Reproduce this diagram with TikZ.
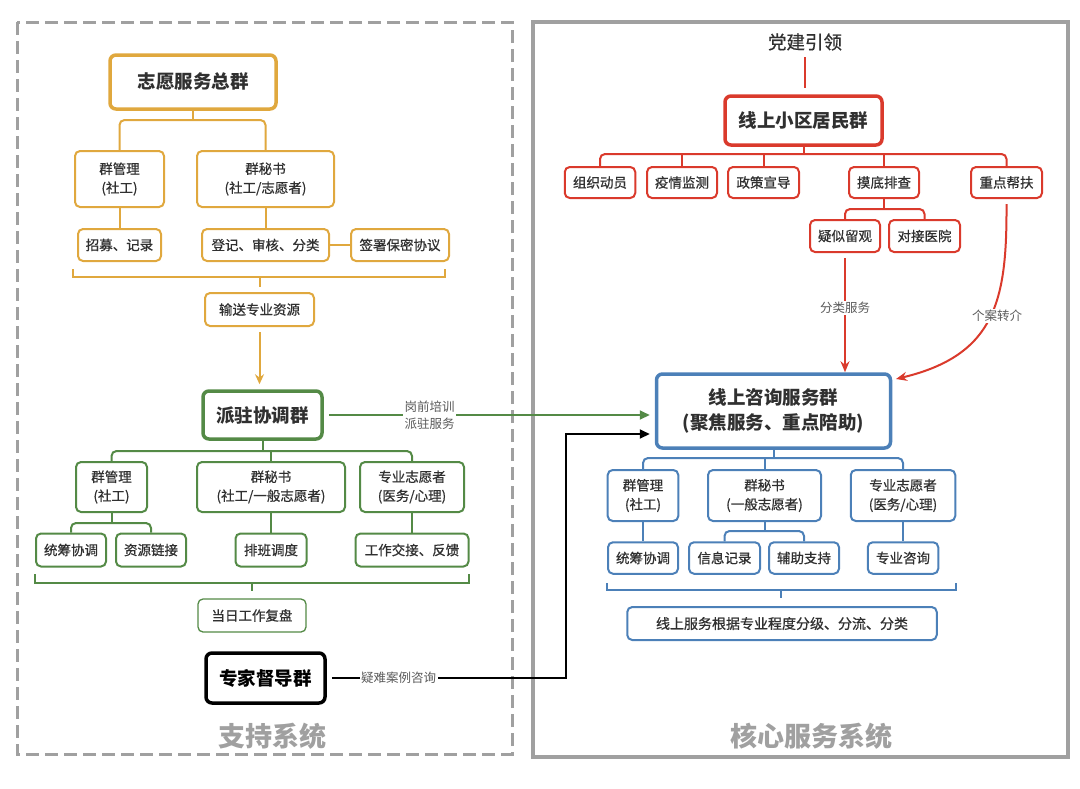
\documentclass[tikz,border=0pt]{standalone}
\usepackage{fontspec}
\setmainfont{Noto Sans CJK SC}
\newfontfamily\medfont{Noto Sans CJK SC}[FakeBold=0.7]
\usetikzlibrary{arrows.meta,calc}
\definecolor{org}{RGB}{224,168,62}
\definecolor{grn}{RGB}{84,138,70}
\definecolor{red1}{RGB}{218,58,44}
\definecolor{blu}{RGB}{76,128,184}
\definecolor{frm}{RGB}{160,160,160}
\definecolor{txt}{RGB}{48,48,48}
\definecolor{lbl}{RGB}{90,90,90}
\tikzset{
  base/.style={draw, rounded corners=5pt, fill=white, align=center, text=txt, inner sep=0pt,
    line width=2pt, font=\medfont\fontsize{13.5}{19}\selectfont},
  big/.style={base, line width=3.5pt, rounded corners=6pt, font=\bfseries\fontsize{18.5}{25}\selectfont},
  wh/.style 2 args={minimum width=#1pt, minimum height=#2pt},
  tline/.style={line width=2pt, rounded corners=5pt},
  lab/.style={fill=white, text=lbl, inner sep=1.5pt, align=center, font=\fontsize{12.5}{16.5}\selectfont},
  sysl/.style={text=frm, font=\bfseries\fontsize{27}{30}\selectfont},
}
\begin{document}
\begin{tikzpicture}[x=1pt,y=-1pt]
\useasboundingbox (0,0) rectangle (1080,788);
% frames
\draw[frm, line width=3pt, dash pattern=on 13pt off 6pt] (17,22) rectangle (512,754);
\draw[frm, line width=3.5pt] (533,22) rectangle (1068,757);
\node[sysl] (sys1) at (272,736) {支持系统};
\node[sysl] (sys2) at (811,736) {核心服务系统};

% ---------- orange ----------
\node[big, draw=org, wh={166}{54}] (zong) at (193,82) {志愿服务总群};
\node[base, draw=org, wh={89}{56}] (ogl) at (119.5,179) {群管理\\(社工)};
\node[base, draw=org, wh={137}{56}] (oms) at (265.5,179) {群秘书\\(社工/志愿者)};
\node[base, draw=org, wh={83}{32}] (ozm) at (119.5,245) {招募、记录};
\node[base, draw=org, wh={127}{32}] (odj) at (265.5,245) {登记、审核、分类};
\node[base, draw=org, wh={98}{32}] (oqs) at (400,245) {签署保密协议};
\node[base, draw=org, wh={109}{33}] (oss) at (259.5,309.5) {输送专业资源};
\coordinate (oj) at (193,120);
\draw[tline, org] (zong.south) -- (oj);
\draw[tline, org] (ogl.north) -- (ogl.north |- oj) -- (oms.north |- oj) -- (oms.north);
\draw[tline, org] (ogl.south) -- (ozm.north);
\draw[tline, org] (oms.south) -- (odj.north);
\draw[tline, org] (odj.east) -- (oqs.west);
\draw[tline, org, rounded corners=0pt] (73,269) -- (73,277) -- (445,277) -- (445,269);
\coordinate (obr) at (259.5,277);
\draw[tline, org] (obr) -- ++(0,10);

% ---------- green ----------
\node[big, draw=grn, wh={119}{48}] (pz) at (262.5,415) {派驻协调群};
\draw[line width=2pt, org, -{Stealth[length=10pt,width=9pt]}, shorten <=5pt, shorten >=5pt] (oss.south) -- (oss.south |- pz.north);
\node[base, draw=grn, wh={71}{50}] (ggl) at (111.5,487) {群管理\\(社工)};
\node[base, draw=grn, wh={148}{50}] (gms) at (271,487) {群秘书\\(社工/一般志愿者)};
\node[base, draw=grn, wh={104}{50}] (gzy) at (412,487) {专业志愿者\\(医务/心理)};
\node[base, draw=grn, wh={70}{33}] (gtc) at (71,550) {统筹协调};
\node[base, draw=grn, wh={70}{33}] (gzl) at (151,550) {资源链接};
\node[base, draw=grn, wh={71}{33}] (gpb) at (271,550) {排班调度};
\node[base, draw=grn, wh={113}{33}] (ggz) at (412,550) {工作交接、反馈};
\node[base, draw=grn, line width=1.3pt, wh={108}{33}] (gfp) at (252,615.5) {当日工作复盘};
\coordinate (gj) at (262.5,451);
\draw[tline, grn] (pz.south) -- (gj);
\draw[tline, grn] (ggl.north) -- (ggl.north |- gj) -- (gzy.north |- gj) -- (gzy.north);
\draw[tline, grn] (gms.north) -- (gms.north |- gj);
\coordinate (gj2) at (111.5,523);
\draw[tline, grn] (ggl.south) -- (gj2);
\draw[tline, grn] (gtc.north) -- (gtc.north |- gj2) -- (gzl.north |- gj2) -- (gzl.north);
\draw[tline, grn] (gms.south) -- (gpb.north);
\draw[tline, grn] (gzy.south) -- (ggz.north);
\draw[tline, grn, rounded corners=0pt] (34.5,574) -- (34.5,583) -- (469,583) -- (469,574);
\coordinate (gbr) at (252,583);
\draw[tline, grn] (gbr) -- ++(0,8);

% ---------- black ----------
\node[big, draw=black, text=black, wh={119}{50}] (zj) at (265.5,678) {专家督导群};

% ---------- red ----------
\node[text=txt, font=\medfont\fontsize{18.5}{22}\selectfont] (dj) at (805,42) {党建引领};
\node[big, draw=red1, wh={157}{49}] (jm) at (803.5,120.5) {线上小区居民群};
\draw[line width=2pt, red1, shorten <=3pt, shorten >=6pt] (dj.south) -- (dj.south |- jm.north);
\node[base, draw=red1, wh={70.5}{31}] (r1) at (600,182.5) {组织动员};
\node[base, draw=red1, wh={70}{31}] (r2) at (682,182.5) {疫情监测};
\node[base, draw=red1, wh={71}{31}] (r3) at (763.5,182.5) {政策宣导};
\node[base, draw=red1, wh={70}{31}] (r4) at (884,182.5) {摸底排查};
\node[base, draw=red1, wh={71}{31}] (r5) at (1006.5,182.5) {重点帮扶};
\coordinate (rj) at (803.5,154);
\draw[tline, red1] (jm.south) -- (rj);
\draw[tline, red1] (r1.north) -- (r1.north |- rj) -- (r5.north |- rj) -- (r5.north);
\draw[tline, red1] (r2.north) -- (r2.north |- rj);
\draw[tline, red1] (r3.north) -- (r3.north |- rj);
\draw[tline, red1] (r4.north) -- (r4.north |- rj);
\node[base, draw=red1, wh={70}{32}] (rys) at (845,236) {疑似留观};
\node[base, draw=red1, wh={71}{32}] (rdj) at (924.5,236) {对接医院};
\coordinate (rj2) at (884,209);
\draw[tline, red1] (r4.south) -- (rj2);
\draw[tline, red1] (rys.north) -- (rys.north |- rj2) -- (rdj.north |- rj2) -- (rdj.north);

% ---------- blue ----------
\node[big, draw=blu, wh={234}{74}] (zx) at (773.5,411) {线上咨询服务群\\(聚焦服务、重点陪助)};
\node[base, draw=blu, wh={70.6}{51}] (bgl) at (643,495.5) {群管理\\(社工)};
\node[base, draw=blu, wh={113}{51}] (bms) at (764.5,495.5) {群秘书\\(一般志愿者)};
\node[base, draw=blu, wh={104.5}{51}] (bzy) at (903,495.5) {专业志愿者\\(医务/心理)};
\node[base, draw=blu, wh={70}{31.5}] (btc) at (643,558) {统筹协调};
\node[base, draw=blu, wh={71}{31.5}] (bxx) at (724.5,558) {信息记录};
\node[base, draw=blu, wh={70}{31.5}] (bfz) at (804,558) {辅助支持};
\node[base, draw=blu, wh={70.5}{31.5}] (bzx) at (903,558) {专业咨询};
\node[base, draw=blu, wh={309.5}{33}, font=\medfont\fontsize{14}{18}\selectfont] (bfl) at (782,623.5) {线上服务根据专业程度分级、分流、分类};
\coordinate (bj) at (773.5,458);
\draw[tline, blu] (zx.south) -- (bj);
\draw[tline, blu] (bgl.north) -- (bgl.north |- bj) -- (bzy.north |- bj) -- (bzy.north);
\draw[tline, blu] (bms.north) -- (bms.north |- bj);
\draw[tline, blu] (bgl.south) -- (btc.north);
\coordinate (bj2) at (764.5,531);
\draw[tline, blu] (bms.south) -- (bj2);
\draw[tline, blu] (bxx.north) -- (bxx.north |- bj2) -- (bfz.north |- bj2) -- (bfz.north);
\draw[tline, blu] (bzy.south) -- (bzx.north);
\draw[tline, blu, rounded corners=0pt] (606.5,583) -- (606.5,590) -- (955.5,590) -- (955.5,583);
\coordinate (bbr) at (781,590);
\draw[tline, blu] (bbr) -- ++(0,8);

% ---------- cross connectors ----------
\draw[line width=2pt, grn, -{Triangle[length=10pt,width=9pt]}, shorten <=5pt, shorten >=5pt]
  (pz.east) -- node[lab, pos=0.32] (l1) {岗前培训\\派驻服务} (zx.west |- pz.east);
\coordinate (bk) at (566,678);
\draw[line width=2pt, black, -{Triangle[length=10pt,width=9pt]}, shorten <=5pt, shorten >=5pt]
  (zj.east) -- node[lab, pos=0.3] (l2) {疑难案例咨询} (bk) |- (zx.west |- 0,434);
\draw[line width=2pt, red1, -{Stealth[length=11pt,width=9pt]}, shorten <=5pt]
  (rys.south) -- node[lab, pos=0.46] (l3) {分类服务} (rys.south |- zx.north);
\draw[line width=2pt, red1, -{Stealth[length=11pt,width=9pt]}]
  (1006.5,204) .. controls (1007,300) and (996,355) .. (896,379);
\node[lab] (l4) at (997,316) {个案转介};
\end{tikzpicture}
\end{document}
